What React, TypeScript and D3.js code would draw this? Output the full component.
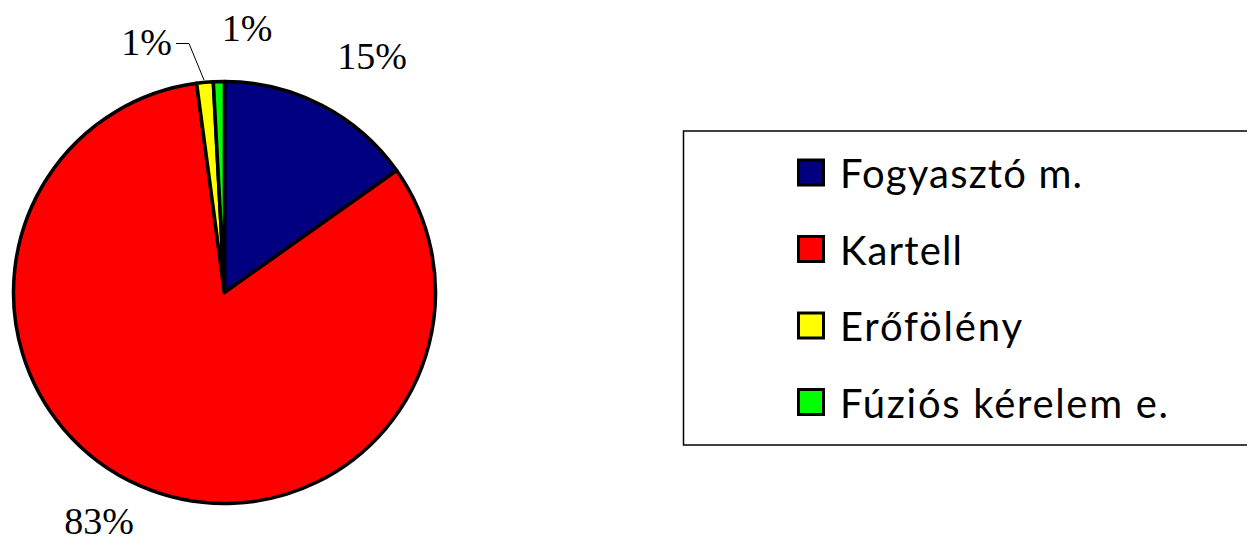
import React from "react";
import * as d3 from "d3";

const categories = ["Fogyasztó m.", "Kartell", "Erőfölény", "Fúziós kérelem e."];
const values = [36, 196, 3, 2];
const colors = ["#000080", "#FF0000", "#FFFF00", "#00FF00"];
const labelText = ["15%", "83%", "1%", "1%"];
const legendWidths = [242, 122, 182, 328];

const W = 1247;
const H = 541;
const cx = 224.5;
const cy = 292.5;
const R = 211;

export default function App() {
  const pie = d3.pie<number>().sort(null).value((d) => d)(values);
  const arc = d3.arc<d3.PieArcDatum<number>>().innerRadius(0).outerRadius(R);
  const labelPos: [number, number][] = [
    [372, 69],
    [99, 534],
    [146.5, 55],
    [247, 41],
  ];
  const legendY = d3.scalePoint<string>().domain(categories).range([172.5, 402]);
  return (
    <div style={{ position: "absolute", left: 0, top: 0 }}>
      <svg width={W} height={H} style={{ display: "block", background: "#fff" }}>
        <g transform={`translate(${cx},${cy})`}>
          {pie.map((p, i) => (
            <path key={i} d={arc(p) || ""} fill={colors[i]} stroke="#000" strokeWidth={3.5} strokeLinejoin="round" />
          ))}
        </g>
        {labelText.map((t, i) => (
          <text
            key={i}
            x={labelPos[i][0]}
            y={labelPos[i][1]}
            textAnchor="middle"
            fontFamily="'Liberation Serif', 'Times New Roman', serif"
            fontSize={38}
            fill="#000"
          >
            {t}
          </text>
        ))}
        <polyline points="176,43.5 189,43.5 204,80" fill="none" stroke="#000" strokeWidth={1} />
        <rect x={683.5} y={131} width={570} height={314} fill="#fff" stroke="#000" strokeWidth={1.5} />
        {categories.map((c, i) => {
          const y = legendY(c) as number;
          return (
            <g key={c}>
              <rect x={798.5} y={y - 12.5} width={25} height={25} fill={colors[i]} stroke="#000" strokeWidth={3} />
              <text
                x={840}
                y={y + 15.5}
                fontFamily="Lato, 'Open Sans', sans-serif"
                fontSize={40}
                textLength={legendWidths[i]}
                lengthAdjust="spacing"
                fill="#000"
              >
                {c}
              </text>
            </g>
          );
        })}
      </svg>
    </div>
  );
}
